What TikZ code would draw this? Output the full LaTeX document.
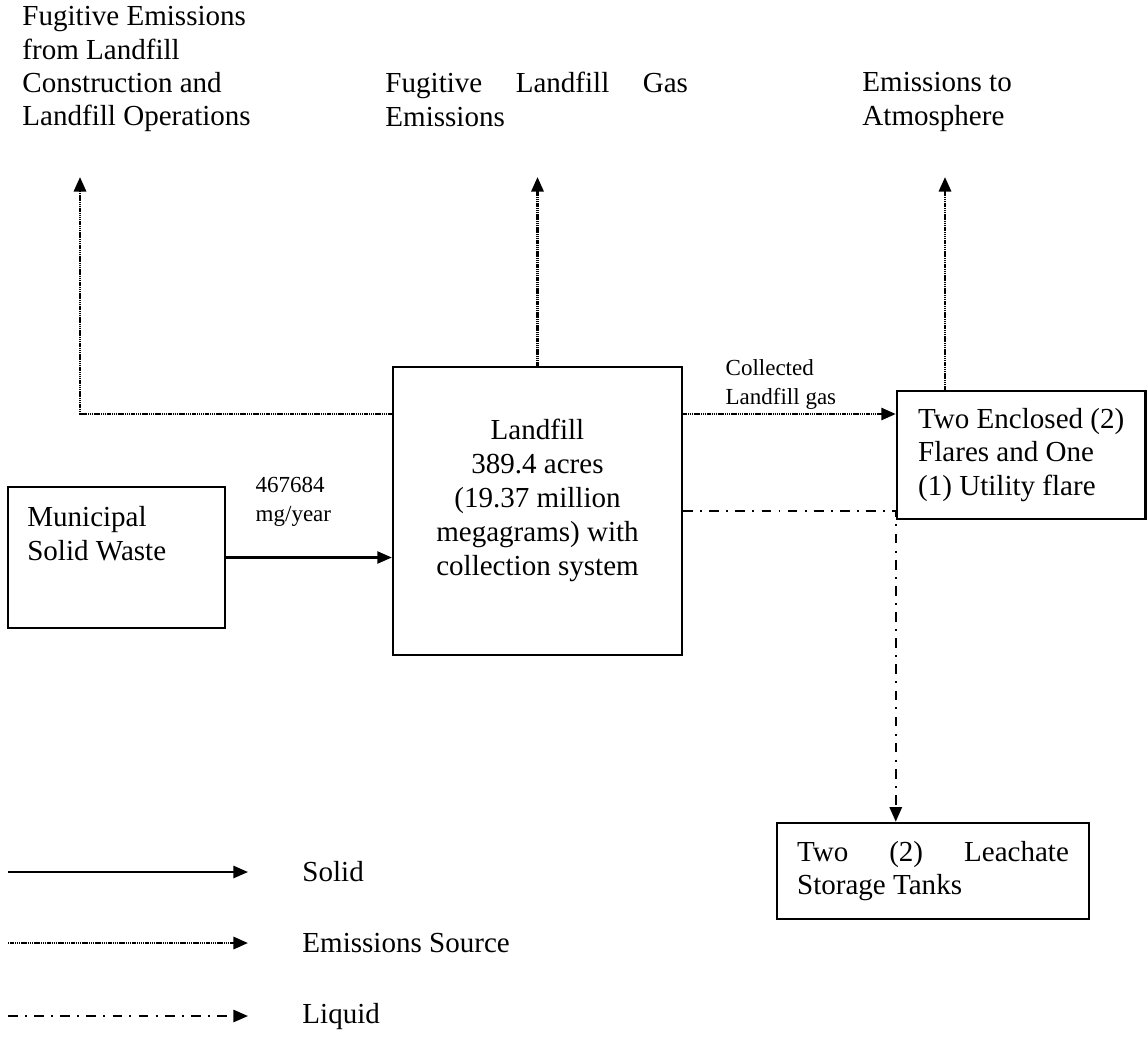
\documentclass[tikz,border=0pt]{standalone}
\usepackage{fontspec}
\setmainfont{Liberation Serif}
\usetikzlibrary{arrows.meta}
\usetikzlibrary{calc}
\tikzstyle{block} = [draw, line width=1pt, inner sep=0pt]
\tikzstyle{caption} = [inner sep=0pt, anchor=north west, align=left]
\tikzstyle{solidflow} = [-{Triangle[length=6pt,width=5pt]}, line width=0.9pt]
\tikzstyle{gasflow} = [-{Triangle[length=6pt,width=5pt]}, line width=1.1pt, dash pattern=on 0.6pt off 0.3pt]
\tikzstyle{liquidflow} = [-{Triangle[length=6pt,width=5pt]}, line width=0.9pt, dash pattern=on 4pt off 3pt on 0.8pt off 3pt]
\newcommand{\smalltext}{\fontsize{9.5}{12}\selectfont}

\begin{document}
\begin{tikzpicture}[x=0.4132pt, y=-0.4132pt, font=\fontsize{12}{13.8}\selectfont]
	\useasboundingbox (0,0) rectangle (1147,1036);
	
	\node (landfill) [block, minimum width=119.4pt, minimum height=119pt,
		label={[anchor=north, yshift=-22pt, align=center, inner sep=0pt, font=\fontsize{12}{14}\selectfont]north:Landfill\\389.4 acres\\(19.37 million\\megagrams) with\\collection system}] at (537.5,511) {};
	\node (municipal) [block, minimum width=89.7pt, minimum height=58.3pt,
		label={[anchor=north west, xshift=8.3pt, yshift=-8.5pt, align=left, inner sep=0pt]north west:Municipal\\Solid Waste}] at (116.5,557.5) {};
	\node (flare) [block, minimum width=102.7pt, minimum height=52.9pt, align=left] at (1021.25,455) {Two Enclosed (2)\\Flares and One\\(1) Utility flare};
	\node (leachate) [block, minimum width=128.9pt, minimum height=39.7pt, text width=112.3pt, align=justify] at (933,871) {Two\hfill(2)\hfill Leachate\\Storage Tanks};
	
	%outlets
	\node (fugcon) [caption] at (22,6) {Fugitive Emissions\\from Landfill\\Construction and\\Landfill Operations};
	\node (fuggas) [caption, text width=125pt, align=justify] at (385,72) {Fugitive\hfill Landfill\hfill Gas\\Emissions};
	\node (atmos) [caption] at (862,72) {Emissions to\\Atmosphere};
	
	\coordinate (gasrow) at (0,414);
	\coordinate (fugtip) at (80,177);
	\coordinate (atmtip) at (945,177);
	
	\draw [solidflow] (municipal.east) -- (municipal.east -| landfill.west);
	\node (rate) [anchor=south west, inner sep=0pt, align=left, font=\smalltext] at ($(municipal.east)+(29,-31)$) {467684\\mg/year};
	
	\draw [gasflow] (landfill.west |- gasrow) -| (fugtip);
	\draw [gasflow] (landfill.north) -- (landfill.north |- fugtip);
	\draw [gasflow] (landfill.east |- gasrow) -- (flare.west |- gasrow);
	\node (collected) [anchor=south west, inner sep=0pt, align=left, font=\smalltext] at ($(landfill.east |- gasrow)+(42,-4)$) {Collected\\Landfill gas};
	\draw [gasflow] (flare.north -| atmtip) -- (atmtip);
	
	\draw [liquidflow] (landfill.east) -| (flare.west |- leachate.north);
	
	%legend
	\foreach \sty/\txt/\yy [count=\i] in {solidflow/Solid/872, gasflow/Emissions Source/943, liquidflow/Liquid/1016} {
		\coordinate (keyA\i) at (8,\yy);
		\coordinate (keyB\i) at (248,\yy);
		\draw [\sty] (keyA\i) -- (keyB\i);
		\node (keytext\i) [anchor=west, inner sep=0pt] at (302,\yy) {\txt};
	}
\end{tikzpicture}
\end{document}
